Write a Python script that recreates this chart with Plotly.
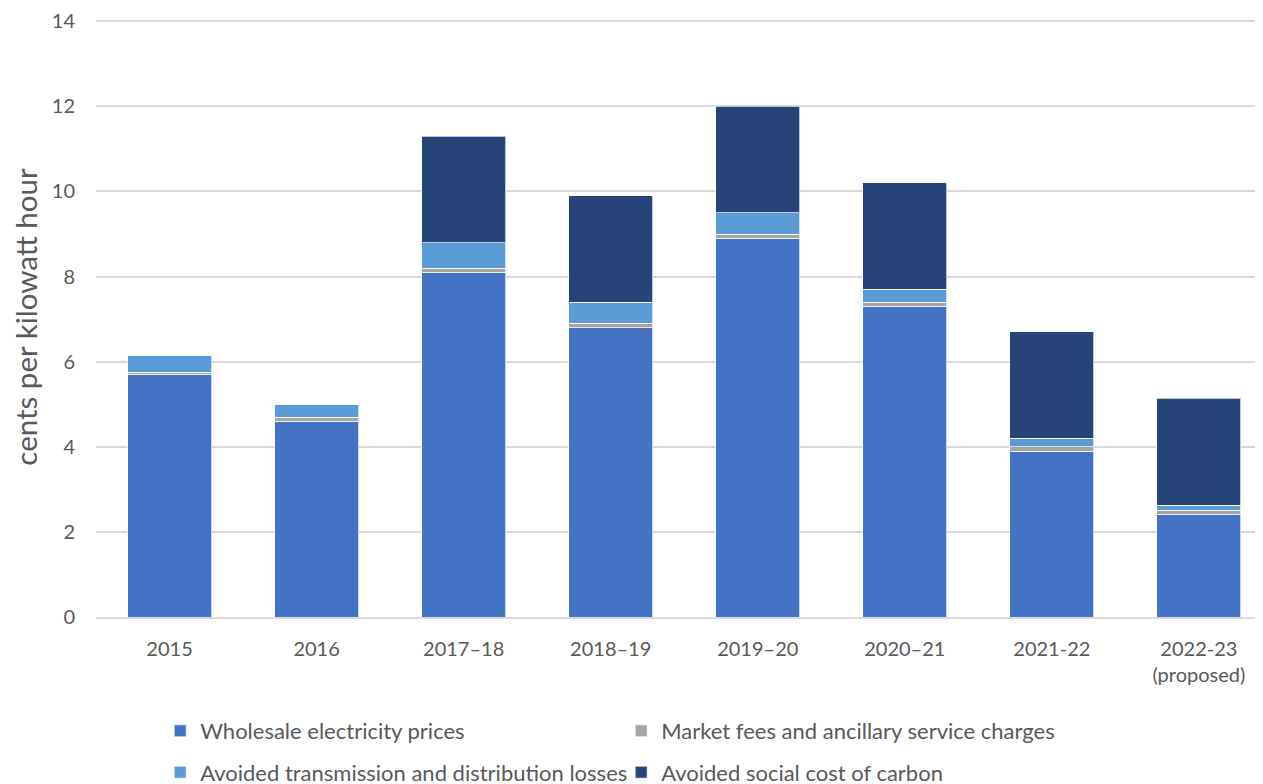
import plotly.graph_objects as go

categories = ["2015", "2016", "2017–18", "2018–19", "2019–20", "2020–21", "2021-22", "2022-23<br>(proposed)"]
wholesale = [5.7, 4.6, 8.1, 6.8, 8.9, 7.3, 3.9, 2.42]
market_fees = [0.05, 0.1, 0.1, 0.1, 0.1, 0.1, 0.1, 0.09]
avoided_td = [0.4, 0.3, 0.6, 0.5, 0.5, 0.3, 0.2, 0.12]
avoided_carbon = [0, 0, 2.5, 2.5, 2.5, 2.5, 2.5, 2.51]
y_ticks = [0, 2, 4, 6, 8, 10, 12, 14]

series = [
    ("Wholesale electricity prices", wholesale, "#4472C4", "legend"),
    ("Market fees and ancillary service charges", market_fees, "#A5A5A5", "legend"),
    ("Avoided transmission and distribution losses", avoided_td, "#5B9BD5", "legend2"),
    ("Avoided social cost of carbon", avoided_carbon, "#264478", "legend2"),
]

fig = go.Figure()
for name, vals, color, lg in series:
    fig.add_trace(go.Bar(
        x=categories, y=vals, name=name, legend=lg,
        marker=dict(color=color, line=dict(color="rgba(255,255,255,0.7)", width=1)),
    ))

font_family = "Lato, 'Open Sans', sans-serif"
legend_common = dict(
    orientation="h", xanchor="left", yanchor="middle",
    font=dict(size=22, color="#595959", family=font_family),
    entrywidth=416, entrywidthmode="pixels", itemwidth=30,
    bgcolor="rgba(0,0,0,0)", traceorder="normal",
    itemclick=False, itemdoubleclick=False,
)

# page body adds an 8px margin, so the figure is sized 1255x776
fig.update_layout(
    barmode="stack",
    bargap=0.429,
    width=1255, height=776,
    margin=dict(l=88, r=0, t=8.7, b=167, autoexpand=False),
    plot_bgcolor="white", paper_bgcolor="white",
    font=dict(family=font_family, color="#595959"),
    showlegend=True,
    legend=dict(x=0.055, y=-0.190, **legend_common),
    legend2=dict(x=0.055, y=-0.259, **legend_common),
    xaxis=dict(
        range=[-0.5, 7.436],
        tickfont=dict(size=20, color="#595959"),
        showgrid=False, showline=True, linecolor="#D9D9D9", linewidth=1.5,
        ticks="", ticklabelstandoff=13, automargin=False,
    ),
    yaxis=dict(
        range=[0, 14.1], tickvals=y_ticks,
        tickfont=dict(size=20, color="#595959"),
        showgrid=True, gridcolor="#D9D9D9", gridwidth=1.5,
        zeroline=False, showline=False, ticks="",
        ticklabelstandoff=20, automargin=False,
        title=dict(text="cents per kilowatt hour", font=dict(size=29.5, color="#595959"), standoff=8),
    ),
)

fig.write_html("out.html")
